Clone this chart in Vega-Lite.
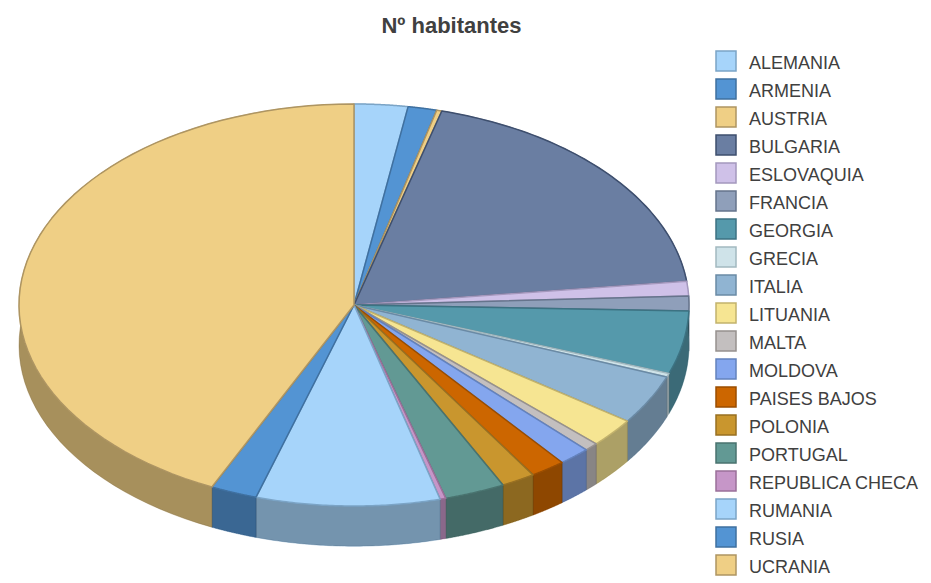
{"$schema":"https://vega.github.io/schema/vega-lite/v6.json","width":931,"height":583,"padding":0,"autosize":{"type":"none"},"background":"white",
"title":{"text":"Nº habitantes","font":"Liberation Sans","fontSize":22,"fontWeight":"bold","color":"#404040","anchor":"middle","dx":-14,"offset":-38},
"config":{"view":{"stroke":null},"legend":{"orient":"none","legendX":715,"legendY":50,"symbolType":"square","symbolSize":400,"symbolStrokeWidth":1.5,"labelFont":"Liberation Sans","labelFontSize":18,"labelColor":"#404040","labelOffset":12,"rowPadding":2,"labelLimit":220,"padding":0}},
"data":{"values":[
{"pais":"ALEMANIA","valor":9.3},{"pais":"ARMENIA","valor":5},{"pais":"AUSTRIA","valor":0.9},{"pais":"BULGARIA","valor":68},{"pais":"ESLOVAQUIA","valor":4.2},{"pais":"FRANCIA","valor":4.3},{"pais":"GEORGIA","valor":18.2},{"pais":"GRECIA","valor":1.1},{"pais":"ITALIA","valor":14.3},{"pais":"LITUANIA","valor":8.4},{"pais":"MALTA","valor":2.4},{"pais":"MOLDOVA","valor":5.5},{"pais":"PAISES BAJOS","valor":6.1},{"pais":"POLONIA","valor":5.9},{"pais":"PORTUGAL","valor":10.5},{"pais":"REPUBLICA CHECA","valor":1},{"pais":"RUMANIA","valor":31.9},{"pais":"RUSIA","valor":8.1},{"pais":"UCRANIA","valor":154.9}]},
"transform":[
{"joinaggregate":[{"op":"sum","field":"valor","as":"total"}]},
{"window":[{"op":"sum","field":"valor","as":"fin"}],"sort":[{"field":"pais","order":"ascending"}]},
{"calculate":"(datum.fin-datum.valor)/datum.total*2*PI","as":"a0"},
{"calculate":"datum.fin/datum.total*2*PI","as":"a1"}],
"layer":[
{"transform":[{"calculate":"sequence(0,122)","as":"k"},{"flatten":["k"]},{"calculate":"datum.k<=60?datum.k/60:(121-datum.k)/60","as":"s"},{"calculate":"datum.a0+(datum.a1-datum.a0)*datum.s","as":"t"},{"calculate":"sin(datum.t)","as":"px"},{"calculate":"cos(datum.t)-(datum.k<=60?0:0.2)","as":"py"}],
"mark":{"type":"line","interpolate":"linear-closed","strokeWidth":0.5},
"encoding":{"x":{"field":"px","type":"quantitative","scale":{"domain":[-1.0567,1.7224],"nice":false,"zero":false},"axis":null},"y":{"field":"py","type":"quantitative","scale":{"domain":[-1.3831,1.5174],"nice":false,"zero":false},"axis":null},"order":{"field":"k","type":"quantitative"},"detail":{"field":"pais"},
"fill":{"field":"pais","type":"nominal","title":null,"legend":{"encode":{"labels":{"update":{"dy":{"value":3}}}}},"scale":{"domain":["ALEMANIA","ARMENIA","AUSTRIA","BULGARIA","ESLOVAQUIA","FRANCIA","GEORGIA","GRECIA","ITALIA","LITUANIA","MALTA","MOLDOVA","PAISES BAJOS","POLONIA","PORTUGAL","REPUBLICA CHECA","RUMANIA","RUSIA","UCRANIA"],"range":["#a6d4fa","#5394d3","#efcf85","#6a7ea2","#cfc1e8","#8f9fba","#5599ab","#cfe3e9","#90b4d2","#f6e592","#c3bfbf","#84a6ee","#cc6600","#c9962e","#629994","#c696c8","#a6d4fa","#5394d3","#efcf85"]}},
"stroke":{"field":"pais","type":"nominal","title":null,"legend":{"encode":{"labels":{"update":{"dy":{"value":3}}}}},"scale":{"domain":["ALEMANIA","ARMENIA","AUSTRIA","BULGARIA","ESLOVAQUIA","FRANCIA","GEORGIA","GRECIA","ITALIA","LITUANIA","MALTA","MOLDOVA","PAISES BAJOS","POLONIA","PORTUGAL","REPUBLICA CHECA","RUMANIA","RUSIA","UCRANIA"],"range":["#7ba4c6","#3f70a0","#ae9562","#3e4f6e","#a498bd","#66748c","#3c7282","#a3b9c0","#6a8aa5","#c2b26c","#96918f","#6382bd","#9a4d00","#987022","#49736f","#9a7099","#7ba4c6","#3f70a0","#ae9562"]}}}},
{"transform":[{"calculate":"sequence(0,122)","as":"k"},{"flatten":["k"]},{"calculate":"datum.k<=60?datum.k/60:(121-datum.k)/60","as":"s"},{"calculate":"datum.a0+(datum.a1-datum.a0)*datum.s","as":"t"},{"calculate":"sin(datum.t)","as":"px"},{"calculate":"cos(datum.t)-(datum.k<=60?0:0.2)","as":"py"}],
"mark":{"type":"line","interpolate":"linear-closed","fill":"#000000","fillOpacity":0.3,"stroke":null},
"encoding":{"x":{"field":"px","type":"quantitative"},"y":{"field":"py","type":"quantitative"},"order":{"field":"k","type":"quantitative"},"detail":{"field":"pais"}}},
{"transform":[{"calculate":"sequence(-1,61)","as":"k"},{"flatten":["k"]},{"calculate":"datum.a0+(datum.a1-datum.a0)*max(datum.k,0)/60","as":"t"},{"calculate":"datum.k<0?0:sin(datum.t)","as":"px"},{"calculate":"datum.k<0?0:cos(datum.t)","as":"py"}],
"mark":{"type":"line","interpolate":"linear-closed","strokeWidth":1.5,"strokeJoin":"round"},
"encoding":{"x":{"field":"px","type":"quantitative"},"y":{"field":"py","type":"quantitative"},"order":{"field":"k","type":"quantitative"},"detail":{"field":"pais"},
"fill":{"field":"pais","type":"nominal","title":null,"legend":{"encode":{"labels":{"update":{"dy":{"value":3}}}}}},
"stroke":{"field":"pais","type":"nominal","title":null,"legend":{"encode":{"labels":{"update":{"dy":{"value":3}}}}}}}}
]}
